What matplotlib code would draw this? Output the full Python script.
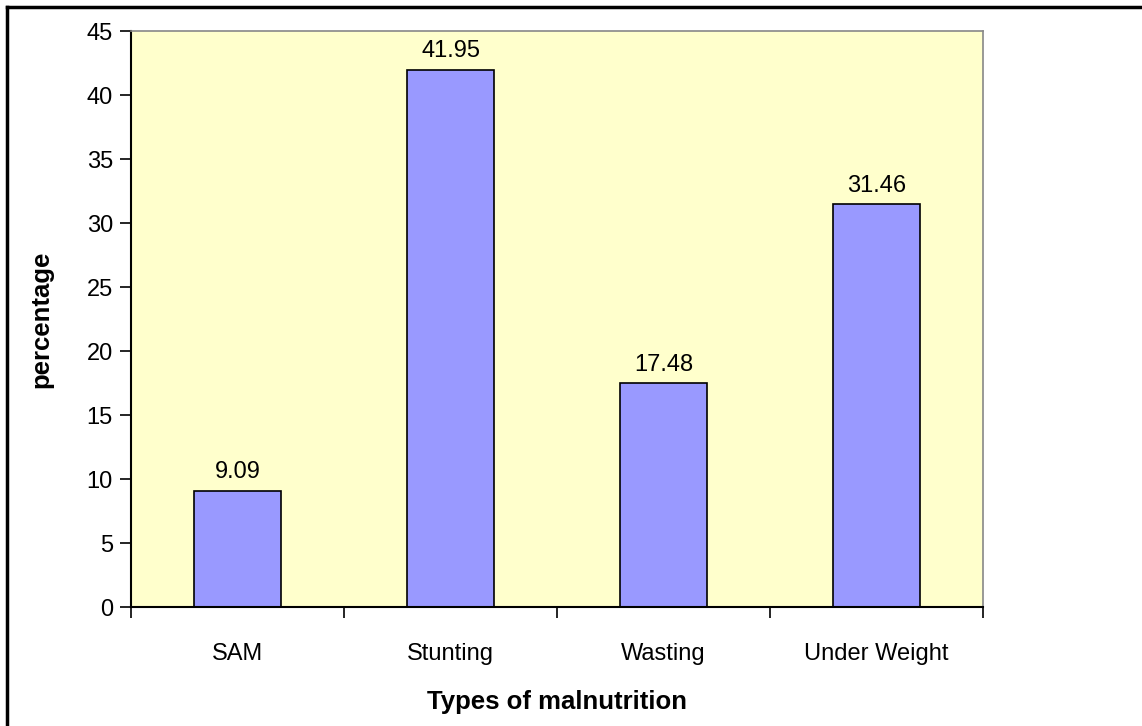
import matplotlib.pyplot as plt
from matplotlib.lines import Line2D

plt.rcParams['font.family'] = ['Liberation Sans', 'DejaVu Sans']

categories = ["SAM", "Stunting", "Wasting", "Under Weight"]
values = [9.09, 41.95, 17.48, 31.46]
y_ticks = list(range(0, 50, 5))

W, H = 1142, 726

fig = plt.figure(figsize=(W / 100, H / 100), dpi=100)
ax = fig.add_axes([131 / W, 1 - 607 / H, (983 - 131) / W, (607 - 31) / H])
ax.set_facecolor("#FFFFCC")

x = list(range(len(categories)))
bars = ax.bar(x, values, width=0.41, color="#9999FF", edgecolor="black", linewidth=1.2)
for b, v in zip(bars, values):
    ax.text(b.get_x() + b.get_width() / 2, v + 0.6, f"{v:.2f}",
            ha="center", va="bottom", fontsize=17)

ax.set_xlim(-0.5, len(categories) - 0.5)
ax.set_ylim(0, 45)
ax.set_yticks(y_ticks)
ax.set_yticklabels([str(t) for t in y_ticks], fontsize=17)
ax.set_xticks(x)
ax.set_xticklabels(categories, fontsize=17)
ax.tick_params(axis="x", length=0, pad=26)
# boundary ticks between categories
ax.set_xticks([i - 0.5 for i in range(len(categories) + 1)], minor=True)
ax.tick_params(axis="x", which="minor", length=8, width=1.2, direction="out")
ax.tick_params(axis="y", length=8, width=1.2, direction="out", pad=5)

for s in ["left", "bottom"]:
    ax.spines[s].set_color("black")
    ax.spines[s].set_linewidth(1.5)
for s in ["top", "right"]:
    ax.spines[s].set_color("#888888")
    ax.spines[s].set_linewidth(1.2)

ax.set_xlabel("Types of malnutrition", fontsize=18.5, fontweight="bold", labelpad=18)
ax.set_ylabel("percentage", fontsize=18.5, fontweight="bold", labelpad=24)

# outer frame (top and left edges only visible)
fig.add_artist(Line2D([7 / W, 1], [1 - 7 / H, 1 - 7 / H], color="black", lw=2.5,
                      transform=fig.transFigure))
fig.add_artist(Line2D([7 / W, 7 / W], [0, 1 - 7 / H], color="black", lw=2.5,
                      transform=fig.transFigure))

fig.savefig("out.png", dpi=100)
